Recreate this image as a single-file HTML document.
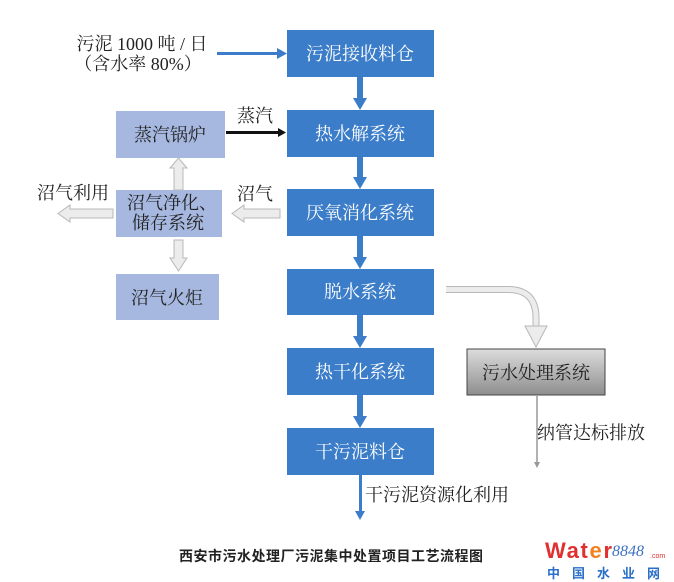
<!DOCTYPE html>
<html><head><meta charset="utf-8"><style>
body{margin:0;background:#fff;}
svg{display:block;font-family:"Liberation Serif","Noto Serif CJK SC",serif;}
</style></head><body>
<svg width="674" height="582" viewBox="0 0 674 582" xmlns="http://www.w3.org/2000/svg">
<defs>
<linearGradient id="gg" x1="0" y1="0" x2="0" y2="1"><stop offset="0" stop-color="#dcdcdc"/><stop offset="1" stop-color="#8e8e8e"/></linearGradient>
</defs>
<g fill="#3b7dc8">
<rect x="287" y="30" width="147" height="47"/>
<rect x="287" y="110" width="147" height="47"/>
<rect x="287" y="189" width="147" height="47"/>
<rect x="287" y="269" width="147" height="46"/>
<rect x="287" y="348" width="147" height="47"/>
<rect x="287" y="428" width="147" height="47"/>
</g>
<g fill="#fff" font-size="18" text-anchor="middle">
<text x="360" y="60">污泥接收料仓</text>
<text x="360" y="140">热水解系统</text>
<text x="360" y="219">厌氧消化系统</text>
<text x="360" y="298">脱水系统</text>
<text x="360" y="378">热干化系统</text>
<text x="360" y="458">干污泥料仓</text>
</g>
<g fill="#3b7dc8">
<rect x="357" y="77" width="6" height="23"/><polygon points="353,98 367,98 360,110"/>
<rect x="357" y="157" width="6" height="22"/><polygon points="353,177 367,177 360,189"/>
<rect x="357" y="236" width="6" height="23"/><polygon points="353,257 367,257 360,269"/>
<rect x="357" y="315" width="6" height="23"/><polygon points="353,336 367,336 360,348"/>
<rect x="357" y="395" width="6" height="23"/><polygon points="353,416 367,416 360,428"/>
<rect x="359" y="475" width="3" height="37"/><polygon points="355,511 365,511 360,520"/>
</g>
<text x="142" y="50" font-size="18" text-anchor="middle" fill="#222">污泥 1000 吨 / 日</text>
<text x="138" y="70" font-size="18" text-anchor="middle" fill="#222">（含水率 80%）</text>
<rect x="217" y="52" width="62" height="3" fill="#3b7dc8"/><polygon points="277,48 287,53.5 277,59" fill="#3b7dc8"/>
<g fill="#a6b8df">
<rect x="116" y="111" width="109" height="47"/>
<rect x="116" y="190" width="106" height="47"/>
<rect x="116" y="274" width="103" height="46"/>
</g>
<g fill="#222" font-size="18" text-anchor="middle">
<text x="170" y="141">蒸汽锅炉</text>
<text x="172" y="209">沼气净化、</text>
<text x="168" y="229">储存系统</text>
<text x="167" y="304">沼气火炬</text>
<text x="255" y="122">蒸汽</text>
<text x="255" y="200">沼气</text>
<text x="73" y="199">沼气利用</text>
</g>
<rect x="226" y="131" width="54" height="3" fill="#111"/><polygon points="278,128 286,132.5 278,137" fill="#111"/>
<g fill="#ececec" stroke="#b8b8b8" stroke-width="1">
<polygon points="280,209 244,209 244,205 232,213.5 244,222 244,218 280,218"/>
<polygon points="113,209 70,209 70,205 58,213.5 70,222 70,218 113,218"/>
<polygon points="174,190 174,168 170,168 178.5,158 187,168 183,168 183,190"/>
<polygon points="174,240 174,258 170,258 178.5,271 187,258 183,258 183,240"/>
</g>
<path d="M446,289.5 L508,289.5 Q536,289.5 536,318 L536,326" fill="none" stroke="#b8b8b8" stroke-width="7"/>
<path d="M446,289.5 L508,289.5 Q536,289.5 536,318 L536,327" fill="none" stroke="#ececec" stroke-width="5"/>
<polygon points="525,326 547,326 536,347" fill="#ececec" stroke="#b8b8b8"/>
<rect x="467" y="349" width="138" height="46" fill="url(#gg)" stroke="#444" stroke-width="1"/>
<text x="536" y="379" font-size="18" text-anchor="middle" fill="#222">污水处理系统</text>
<line x1="537" y1="396" x2="537" y2="465" stroke="#999" stroke-width="1.5"/>
<polygon points="534,462 540,462 537,468" fill="#999"/>
<text x="537" y="439" font-size="18" fill="#222">纳管达标排放</text>
<text x="365" y="501" font-size="18" fill="#222">干污泥资源化利用</text>
<text x="179" y="561" font-size="14" font-weight="bold" letter-spacing="0.5" fill="#222" font-family="'Liberation Sans','Noto Sans CJK SC',sans-serif">西安市污水处理厂污泥集中处置项目工艺流程图</text>
<text x="545" y="558" font-size="22" font-weight="bold" font-family="'Liberation Sans',sans-serif" fill="#e03030" textLength="67">Wat<tspan fill="#f08020">e</tspan>r</text>
<text x="612" y="556" font-size="16" font-style="italic" fill="#3b6fc0">8848</text>
<text x="650" y="558" font-size="7" fill="#e03030" font-family="'Liberation Sans',sans-serif">.com</text>
<text x="547" y="578" font-size="13" font-weight="bold" fill="#2a6fc8" letter-spacing="12" font-family="'Liberation Sans','Noto Sans CJK SC',sans-serif">中国水业网</text>
</svg>
</body></html>
